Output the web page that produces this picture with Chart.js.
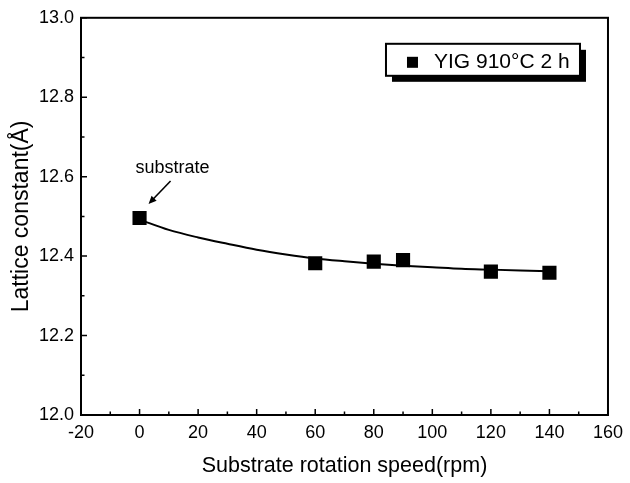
<!DOCTYPE html>
<html><head><meta charset="utf-8">
<script src="https://cdn.jsdelivr.net/npm/chart.js@4"></script>
<style>html,body{margin:0;padding:0;background:#fff}#wrap{width:630px;height:483px;position:relative}</style>
</head><body><div id="wrap"><canvas id="c" width="630" height="483"></canvas></div>
<script>
// ---- data ----
const seriesLabel = 'YIG 910°C 2 h';
const speeds = [0, 60, 80, 90, 120, 140];
const latticeConst = [12.496, 12.382, 12.386, 12.390, 12.361, 12.358];
const fitSpeeds = [0, 10, 20, 30, 40, 50, 60, 70, 80, 90, 100, 110, 120, 130, 140];
const fitValues = [12.492, 12.466, 12.447, 12.431, 12.416, 12.404, 12.394, 12.387, 12.381, 12.376, 12.372, 12.368, 12.366, 12.364, 12.362];
const xTicks = [-20, 0, 20, 40, 60, 80, 100, 120, 140, 160];
const yTicks = [12.0, 12.2, 12.4, 12.6, 12.8, 13.0];
const xTitle = 'Substrate rotation speed(rpm)';
const yTitle = 'Lattice constant(Å)';
const annotationText = 'substrate';

const FONT = '"Liberation Sans", Arial, Helvetica, sans-serif';

const frame = {
  id: 'frame',
  afterDraw(chart) {
    const {ctx, chartArea: a, scales: {x, y}} = chart;
    ctx.save();
    ctx.strokeStyle = '#000';
    ctx.lineWidth = 2;
    ctx.strokeRect(a.left, a.top, a.right - a.left, a.bottom - a.top);
    // ticks (inward), major + minor on bottom & left
    ctx.lineWidth = 1.5;
    ctx.beginPath();
    xTicks.forEach((v, i) => {
      const px = x.getPixelForValue(v);
      ctx.moveTo(px, a.bottom); ctx.lineTo(px, a.bottom - 6);
      if (i < xTicks.length - 1) {
        const m = x.getPixelForValue((v + xTicks[i + 1]) / 2);
        ctx.moveTo(m, a.bottom); ctx.lineTo(m, a.bottom - 3.5);
      }
    });
    yTicks.forEach((v, i) => {
      const py = y.getPixelForValue(v);
      ctx.moveTo(a.left, py); ctx.lineTo(a.left + 6, py);
      if (i < yTicks.length - 1) {
        const m = y.getPixelForValue((v + yTicks[i + 1]) / 2);
        ctx.moveTo(a.left, m); ctx.lineTo(a.left + 3.5, m);
      }
    });
    ctx.stroke();

    // legend box with drop shadow
    const bx = a.right - 28 - 194, by = a.top + 26, bw = 194, bh = 32;
    ctx.fillStyle = '#000';
    ctx.fillRect(bx + 6, by + 6, bw, bh);
    ctx.fillStyle = '#fff';
    ctx.fillRect(bx, by, bw, bh);
    ctx.lineWidth = 2;
    ctx.strokeRect(bx, by, bw, bh);
    ctx.fillStyle = '#000';
    ctx.fillRect(bx + 21, by + 13, 11, 11);
    ctx.font = '21px ' + FONT;
    ctx.textBaseline = 'middle';
    ctx.textAlign = 'left';
    ctx.fillText(seriesLabel, bx + 48, by + 18);

    // annotation "substrate" with arrow
    const px = x.getPixelForValue(speeds[0]);
    const py = y.getPixelForValue(latticeConst[0]);
    ctx.font = '18px ' + FONT;
    ctx.textAlign = 'center';
    ctx.fillText(annotationText, px + 33, py - 50);
    const tx = px + 31, ty = py - 37, hx = px + 9, hy = py - 14;
    ctx.lineWidth = 1.6;
    ctx.beginPath(); ctx.moveTo(tx, ty); ctx.lineTo(hx + 3, hy - 3.3); ctx.stroke();
    const ang = Math.atan2(hy - ty, hx - tx);
    ctx.beginPath();
    ctx.moveTo(hx, hy);
    ctx.lineTo(hx - 8 * Math.cos(ang) + 3.5 * Math.sin(ang), hy - 8 * Math.sin(ang) - 3.5 * Math.cos(ang));
    ctx.lineTo(hx - 8 * Math.cos(ang) - 3.5 * Math.sin(ang), hy - 8 * Math.sin(ang) + 3.5 * Math.cos(ang));
    ctx.closePath(); ctx.fill();
    ctx.restore();
  }
};

new Chart(document.getElementById('c'), {
  type: 'scatter',
  data: {
    datasets: [
      {
        label: seriesLabel + ' fit',
        data: fitSpeeds.map((s, i) => ({x: s, y: fitValues[i]})),
        showLine: true,
        borderColor: '#000',
        borderWidth: 2,
        pointRadius: 0,
        cubicInterpolationMode: 'monotone',
        order: 2
      },
      {
        label: seriesLabel,
        data: speeds.map((s, i) => ({x: s, y: latticeConst[i]})),
        showLine: false,
        pointStyle: 'rect',
        pointRadius: 10,
        pointHoverRadius: 10,
        backgroundColor: '#000',
        borderColor: '#000',
        borderWidth: 0,
        order: 1
      }
    ]
  },
  options: {
    responsive: false,
    animation: false,
    events: [],
    layout: {padding: {top: 15, right: 15, left: 0, bottom: 0}},
    plugins: {legend: {display: false}, tooltip: {enabled: false}},
    scales: {
      x: {
        type: 'linear', min: -20, max: 160,
        afterBuildTicks: s => { s.ticks = xTicks.map(v => ({value: v})); },
        afterFit: s => { s.height = 68; },
        grid: {display: false, drawTicks: false},
        border: {display: false},
        ticks: {color: '#000', font: {family: FONT, size: 18}, padding: 7, callback: v => String(v), maxRotation: 0, autoSkip: false},
        title: {display: true, text: xTitle, color: '#000', font: {family: FONT, size: 21.5}, padding: {top: 0, bottom: 4}}
      },
      y: {
        type: 'linear', min: 12.0, max: 13.0,
        afterBuildTicks: s => { s.ticks = yTicks.map(v => ({value: v})); },
        afterFit: s => { s.width = 81; },
        grid: {display: false, drawTicks: false},
        border: {display: false},
        ticks: {color: '#000', font: {family: FONT, size: 18}, padding: 7, callback: v => Number(v).toFixed(1), autoSkip: false},
        title: {display: true, text: yTitle, color: '#000', font: {family: FONT, size: 23}, padding: {top: 8, bottom: 0}}
      }
    }
  },
  plugins: [frame]
});
</script></body></html>
